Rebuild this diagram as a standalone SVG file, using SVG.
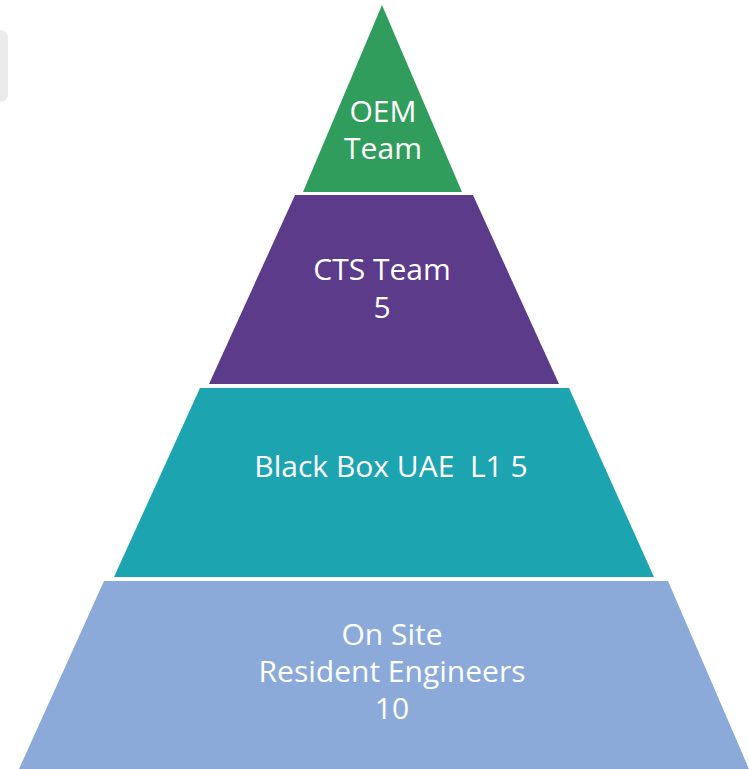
<svg xmlns="http://www.w3.org/2000/svg" width="749" height="769" viewBox="0 0 749 769">
<style>
.lbl{font-family:"Open Sans","Noto Sans","Liberation Sans",sans-serif;font-size:30px;fill:#ffffff;text-anchor:middle;white-space:pre}
</style>
<rect x="0" y="0" width="749" height="769" fill="#ffffff"/>
<rect id="tab" x="-12" y="30" width="20" height="72" rx="8" fill="#ebebeb"/>
<g id="oem">
<polygon points="382,5 462,192 303,192" fill="#319d5d"/>
<text class="lbl" x="383" y="122">OEM</text>
<text class="lbl" x="383" y="159">Team</text>
</g>
<g id="cts">
<polygon points="295,195 473,195 559,384 209,384" fill="#5c3b8b"/>
<text class="lbl" x="382" y="280">CTS Team</text>
<text class="lbl" x="382" y="318">5</text>
</g>
<g id="blackbox">
<polygon points="200,388 569,388 654,577 114,577" fill="#1ca4b1"/>
<text class="lbl" x="391" y="477" xml:space="preserve">Black Box UAE  L1 5</text>
</g>
<g id="onsite">
<polygon points="104,581 668,581 749,769 19,769" fill="#8caad9"/>
<text class="lbl" x="392" y="645">On Site</text>
<text class="lbl" x="392" y="682">Resident Engineers</text>
<text class="lbl" x="392" y="719">10</text>
</g>
<g id="connectors"/>
</svg>
